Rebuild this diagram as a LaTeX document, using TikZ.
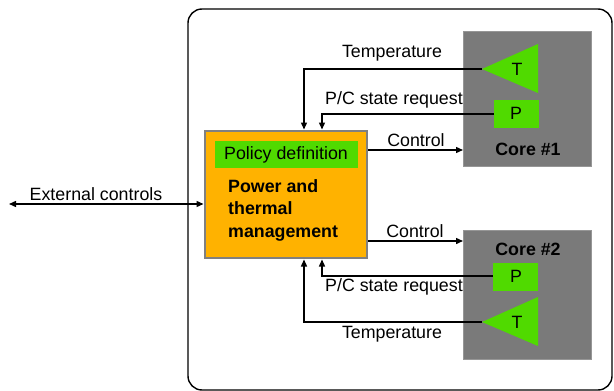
\documentclass[tikz,border=0pt]{standalone}
\usepackage{fontspec}
\setmainfont{Liberation Sans}
\usetikzlibrary{arrows.meta}
\definecolor{coregray}{RGB}{122,122,122}
\definecolor{coreedge}{RGB}{150,150,150}
\definecolor{brightgreen}{RGB}{80,218,0}
\definecolor{ptmorange}{RGB}{255,178,0}
\definecolor{ptmedge}{RGB}{128,128,128}
\begin{document}
\begin{tikzpicture}[x=1pt,y=-1pt,
  font=\fontsize{17.8}{21}\selectfont,
  conn/.style={line width=1.4pt,-{Triangle[length=7pt,width=6pt]}},
  lbl/.style={inner sep=0pt,anchor=center},
  corebox/.style={fill=coregray,draw=coreedge,line width=0.8pt},
  greenbox/.style={fill=brightgreen,draw=none},
]
\useasboundingbox (0,0) rectangle (614,391);
% outer rounded frame
\draw[line width=1.4pt,rounded corners=14pt] (188,9) rectangle (612,390);
% cores
\draw[corebox] (463,31) rectangle (591,166);
\coordinate (c1) at (463,150);
\node[lbl,font=\fontsize{17.8}{21}\selectfont\bfseries] (c1lab) at (528,149) {Core \#1};
\draw[corebox] (463,230) rectangle (591,359);
\coordinate (c2) at (463,241);
\node[lbl,font=\fontsize{17.8}{21}\selectfont\bfseries] (c2lab) at (528,249) {Core \#2};
% T sensors
\fill[brightgreen] (482,69) -- (538,44) -- (538,93) -- cycle;
\coordinate (t1) at (482,69);
\node[lbl] (t1lab) at (517,69) {T};
\fill[brightgreen] (482,322) -- (538,297) -- (538,346) -- cycle;
\coordinate (t2) at (482,322);
\node[lbl] (t2lab) at (517,322) {T};
% P boxes
\fill[greenbox] (494,100) rectangle (539,128);
\coordinate (p1) at (494,114);
\node[lbl] (p1lab) at (516,113) {P};
\fill[greenbox] (493,263) rectangle (538,291);
\coordinate (p2) at (493,276);
\node[lbl] (p2lab) at (516,276) {P};
% Power and thermal management
\draw[fill=ptmorange,draw=ptmedge,line width=2.5pt] (205,131) rectangle (367,258);
\fill[brightgreen] (215,141) rectangle (358,168);
\node[lbl] (pol) at (286,155) {Policy definition};
\node[anchor=north west,inner sep=0pt,align=left,font=\fontsize{17.8}{22.5}\selectfont\bfseries] (ptm) at (228,179) {Power and\\thermal\\management};
\coordinate (ptmT1) at (304,129.5);
\coordinate (ptmP1) at (322,129.5);
\coordinate (ptmT2) at (304,259.5);
\coordinate (ptmP2) at (322,259.5);
\coordinate (ptmR1) at (368,150);
\coordinate (ptmR2) at (368,241);
\coordinate (ptmL) at (203.5,204);
\coordinate (ext) at (9,204);
% connectors
\draw[conn] (t1) -| (ptmT1);
\draw[conn] (p1) -| (ptmP1);
\draw[conn] (ptmR1) -- (c1);
\draw[conn] (ptmR2) -- (c2);
\draw[conn] (p2) -| (ptmP2);
\draw[conn] (t2) -| (ptmT2);
\draw[line width=1.4pt,{Triangle[length=7pt,width=6pt]}-{Triangle[length=7pt,width=6pt]}] (ext) -- (ptmL);
% labels
\node[lbl] (lt1) at (392,53) {Temperature};
\node[lbl,anchor=west] (lp1) at (325,100) {P/C state request};
\node[lbl] (lc1) at (416,140) {Control};
\node[lbl] (lc2) at (415,231) {Control};
\node[lbl,anchor=west] (lp2) at (325,287) {P/C state request};
\node[lbl] (lt2) at (392,334) {Temperature};
\node[lbl] (lext) at (96,194) {External controls};
\end{tikzpicture}
\end{document}
